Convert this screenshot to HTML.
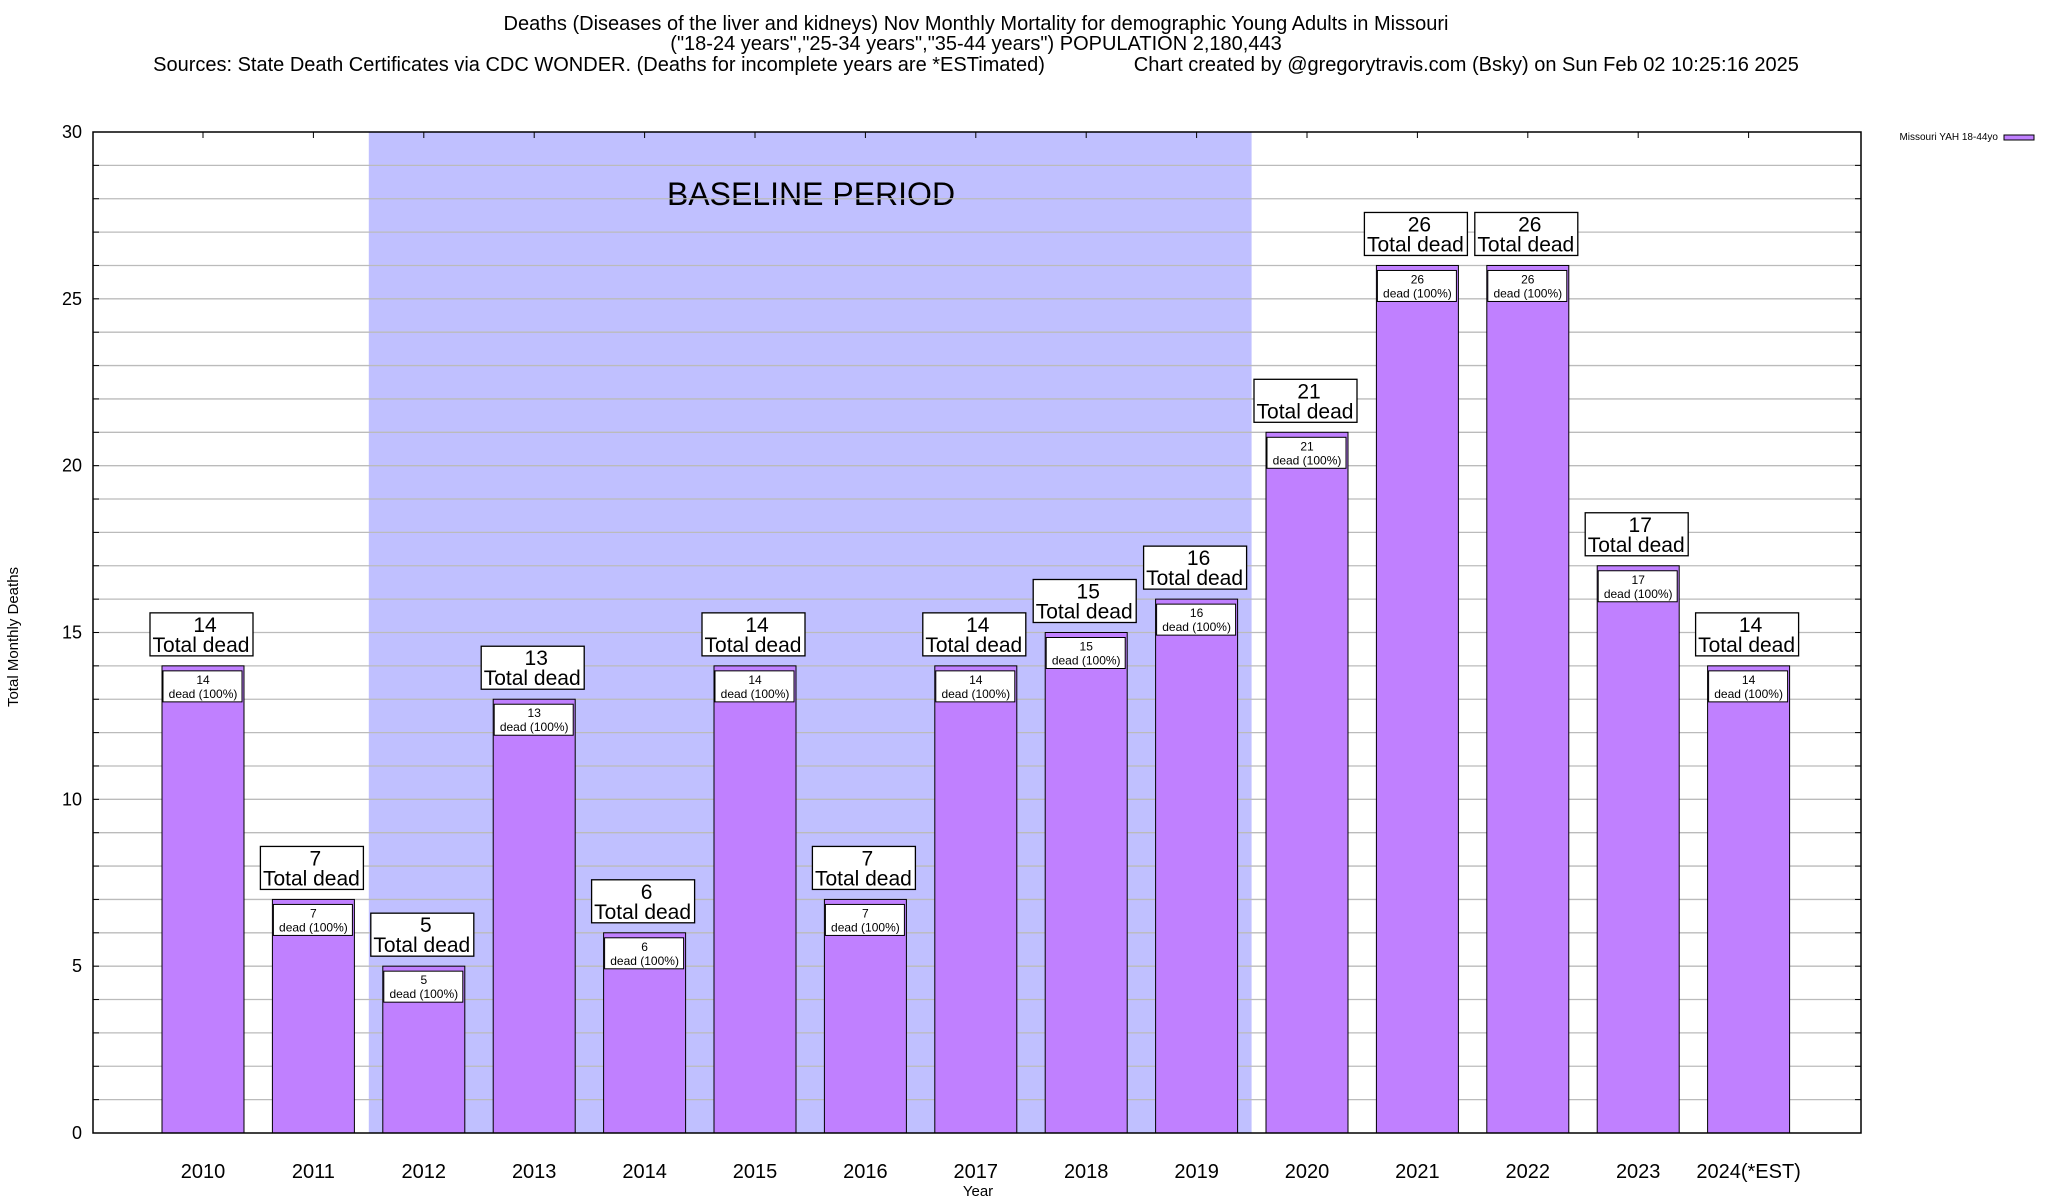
<!DOCTYPE html>
<html><head><meta charset="utf-8"><style>
body{margin:0;background:#fff;}
svg{display:block;font-family:"Liberation Sans",sans-serif;}
</style></head><body>
<svg id="chart" width="2048" height="1200" viewBox="0 0 2048 1200">
<text x="976" y="30" font-size="20" text-anchor="middle">Deaths (Diseases of the liver and kidneys) Nov Monthly Mortality for demographic Young Adults in Missouri</text>
<text x="976" y="50" font-size="20" text-anchor="middle">("18-24 years","25-34 years","35-44 years") POPULATION 2,180,443</text>
<text x="976" y="71" font-size="20" text-anchor="middle" xml:space="preserve">Sources: State Death Certificates via CDC WONDER. (Deaths for incomplete years are *ESTimated)                Chart created by @gregorytravis.com (Bsky) on Sun Feb 02 10:25:16 2025</text>
<g id="plot"></g>
<text x="18" y="637" font-size="15" text-anchor="middle" transform="rotate(-90 18 637)">Total Monthly Deaths</text>
<text x="978" y="1196" font-size="15" text-anchor="middle">Year</text>
<text x="1998" y="140" font-size="10" text-anchor="end">Missouri YAH 18-44yo</text>
<rect x="2004" y="135" width="30" height="5" fill="#c080ff" stroke="#000" stroke-width="1"/>
</svg>
<script>
const categories=["2010","2011","2012","2013","2014","2015","2016","2017","2018","2019","2020","2021","2022","2023","2024(*EST)"];
const values=[14,7,5,13,6,14,7,14,15,16,21,26,26,17,14];
const yTicks=[0,5,10,15,20,25,30];
const baselineStart=2012, baselineEnd=2019;
const NS="http://www.w3.org/2000/svg";
const g=document.getElementById('plot');
const L=93,R=1861,T=132,B=1133,yMax=30;
function X(i){return 203+i*110.4;}
function Y(v){return B-(v/yMax)*(B-T);}
function mk(tag,attrs,parent){const e=document.createElementNS(NS,tag);for(const k in attrs)e.setAttribute(k,attrs[k]);(parent||g).appendChild(e);return e;}
const bi0=categories.indexOf(String(baselineStart)), bi1=categories.indexOf(String(baselineEnd));
const sh=mk('rect',{x:X(bi0)-55,y:T,width:(X(bi1)+55)-(X(bi0)-55),height:B-T,fill:'#c0c0ff'});


const bt=mk('text',{x:811,y:205,'font-size':32,'text-anchor':'middle'});bt.textContent='BASELINE PERIOD';


for(let v=1;v<yMax;v++){const ln=mk('line',{x1:L,x2:R,y1:Y(v),y2:Y(v),stroke:'#bbb','stroke-width':1.3});


mk('line',{x1:L,x2:L+6,y1:Y(v),y2:Y(v),stroke:'#000'});mk('line',{x1:R-6,x2:R,y1:Y(v),y2:Y(v),stroke:'#000'});}
yTicks.forEach(v=>{const t=mk('text',{x:82,y:Y(v)+6,'font-size':18,'text-anchor':'end'});t.textContent=v;

});
values.forEach((v,i)=>{
 const cx=X(i),w=82;
 const b=mk('rect',{x:cx-w/2,y:Y(v),width:w,height:B-Y(v),fill:'#c080ff',stroke:'#000','stroke-width':1});
 
 
 const ib=mk('rect',{x:cx-w/2+1,y:Y(v)+5,width:w-3,height:31,fill:'#fff',stroke:'#000','stroke-width':1});
 
 
 const t1=mk('text',{x:cx,y:Y(v)+18,'font-size':12,'text-anchor':'middle'});t1.textContent=v;
 
 
 const t2=mk('text',{x:cx,y:Y(v)+32,'font-size':12,'text-anchor':'middle'});t2.textContent='dead (100%)';
 
 
 const ob=mk('rect',{x:cx-53,y:Y(v)-53,width:103,height:43,fill:'#fff',stroke:'#000','stroke-width':1.3});
 
 
 const t3=mk('text',{x:cx+2,y:Y(v)-34,'font-size':21,'text-anchor':'middle'});t3.textContent=v;
 
 
 const t4=mk('text',{x:cx-2,y:Y(v)-14,'font-size':21,'text-anchor':'middle'});t4.textContent='Total dead';
 
 
 mk('line',{x1:cx,x2:cx,y1:T,y2:T+6,stroke:'#000'});
 const xl=mk('text',{x:cx,y:1178,'font-size':20,'text-anchor':'middle'});xl.textContent=categories[i];
 
 
});
const fr=mk('rect',{x:L,y:T,width:R-L,height:B-T,fill:'none',stroke:'#000','stroke-width':1.5});


</script>
</body></html>
